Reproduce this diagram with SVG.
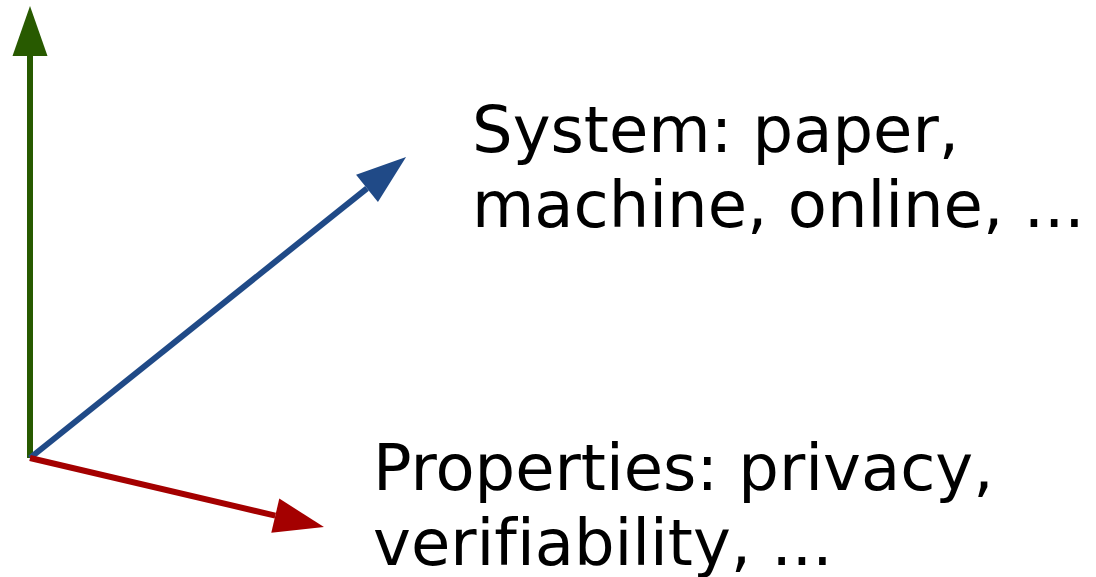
<svg xmlns="http://www.w3.org/2000/svg" width="1096" height="577" viewBox="0 0 1096 577">
  <style>
    .axis { fill: none; stroke-width: 6; stroke-linecap: butt; }
    .label { font-family: "DejaVu Sans", "Liberation Sans", sans-serif; font-size: 64px; fill: #000000; font-variant-ligatures: none; }
  </style>
  <defs>
    <marker id="head-green" markerUnits="userSpaceOnUse" viewBox="0 -18 50 36" refX="0" refY="0" markerWidth="50" markerHeight="36" orient="auto" overflow="visible">
      <path d="M0,-17.5 L50,0 L0,17.5 Z" fill="#285a00"/>
    </marker>
    <marker id="head-blue" markerUnits="userSpaceOnUse" viewBox="0 -18 50 36" refX="0" refY="0" markerWidth="50" markerHeight="36" orient="auto" overflow="visible">
      <path d="M0,-17.5 L50,0 L0,17.5 Z" fill="#204a87"/>
    </marker>
    <marker id="head-red" markerUnits="userSpaceOnUse" viewBox="0 -18 50 36" refX="0" refY="0" markerWidth="50" markerHeight="36" orient="auto" overflow="visible">
      <path d="M0,-17.5 L50,0 L0,17.5 Z" fill="#a40000"/>
    </marker>
  </defs>

  <!-- axes from a common origin -->
  <g id="connectors">
    <line class="axis" x1="30" y1="458" x2="30" y2="56" stroke="#285a00" marker-end="url(#head-green)"/>
    <line class="axis" x1="30" y1="458" x2="367" y2="188.3" stroke="#204a87" marker-end="url(#head-blue)"/>
    <line class="axis" x1="30" y1="458" x2="275.3" y2="515.6" stroke="#a40000" marker-end="url(#head-red)"/>
  </g>

  <g id="system-label">
    <text class="label" x="472" y="152">System: paper,</text>
    <text class="label" x="472" y="227">machine, online, ...</text>
  </g>

  <g id="properties-label">
    <text class="label" x="373" y="490">Properties: privacy,</text>
    <text class="label" x="373" y="565">verifiability, ...</text>
  </g>
</svg>
